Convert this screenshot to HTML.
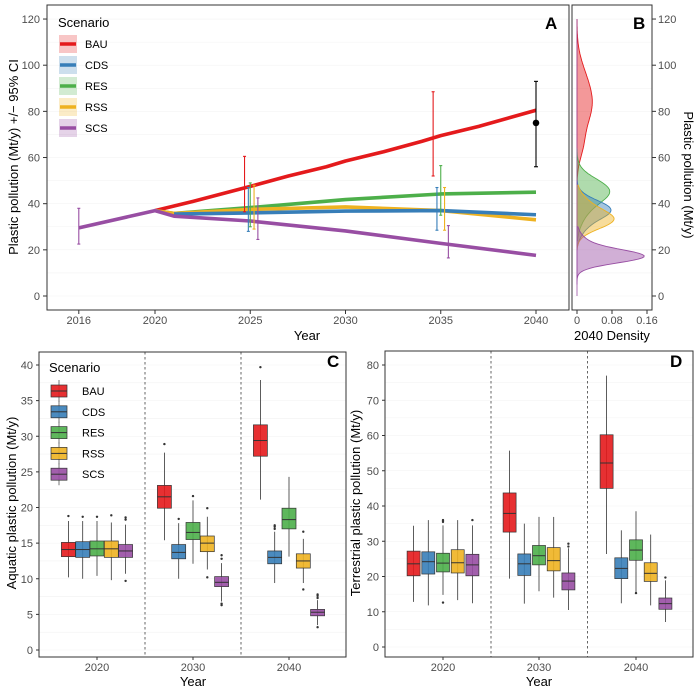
<!DOCTYPE html>
<html><head><meta charset="utf-8"><style>
body{margin:0;background:#fff}
svg{display:block;font-family:"Liberation Sans",Arial,sans-serif}
.t{font-size:11px;fill:#4d4d4d}
.ti{font-size:13px;fill:#000}
</style></head><body>
<svg id="s" width="700" height="692" viewBox="0 0 700 692" xmlns="http://www.w3.org/2000/svg"></svg>
<script>
const S=document.getElementById('s');let h='';
const C={BAU:'#E41A1C',CDS:'#377EB8',RES:'#4DAF4A',RSS:'#EEB221',SCS:'#984EA3'};
const K=['BAU','CDS','RES','RSS','SCS'];
// Panel A
const ay=v=>296-2.308*v, ax=t=>155+19.05*(t-2020);
for(let v=0;v<=120;v+=10)h+=`<line x1="47" x2="569" y1="${ay(v)}" y2="${ay(v)}" stroke="#f3f3f3" stroke-width="0.6"/>`;
for(let v=0;v<=120;v+=20){h+=`<text class="t" x="40" y="${ay(v)+4}" text-anchor="end">${v}</text><line x1="43" x2="47" y1="${ay(v)}" y2="${ay(v)}" stroke="#333"/>`;}
[2016,2020,2025,2030,2035,2040].forEach(t=>{h+=`<text class="t" x="${ax(t)}" y="324" text-anchor="middle">${t}</text><line x1="${ax(t)}" x2="${ax(t)}" y1="310" y2="314" stroke="#333"/>`;});
const L={
BAU:[[2020,37],[2022,41],[2025,47.5],[2027,52],[2029,56],[2030,58.5],[2032,62.5],[2034,67],[2035,69.5],[2037,73.5],[2040,80.5]],
RES:[[2020,37],[2021,35.8],[2025,38.3],[2030,41.8],[2035,44.2],[2040,45]],
RSS:[[2020,37],[2021,35.8],[2025,37.5],[2030,38.6],[2035,37],[2040,33]],
CDS:[[2021,35.5],[2025,36],[2030,36.8],[2035,37],[2040,35.2]],
SCS:[[2016,29.5],[2020,37],[2021,34.6],[2025,32.5],[2030,28.2],[2035,22.8],[2040,17.6]]};
['BAU','RES','RSS','CDS','SCS'].forEach(k=>{h+=`<polyline fill="none" stroke="${C[k]}" stroke-width="3.6" stroke-linejoin="round" points="${L[k].map(p=>ax(p[0])+','+ay(p[1])).join(' ')}"/>`;});
const E=[['SCS',2016,22.5,38],['BAU',2024.7,36.5,60.5],['CDS',2024.9,28,47],['RES',2025,30,49],['RSS',2025.2,29,48],['SCS',2025.4,24.5,42.5],
['BAU',2034.6,52,88.5],['CDS',2034.8,28.5,47],['RES',2035,35,56.5],['RSS',2035.2,28.5,47],['SCS',2035.4,16.5,30.5]];
E.forEach(e=>{const x=ax(e[1]),c=C[e[0]];h+=`<g stroke="${c}" stroke-width="1.1"><line x1="${x}" x2="${x}" y1="${ay(e[2])}" y2="${ay(e[3])}"/><line x1="${x-1.5}" x2="${x+1.5}" y1="${ay(e[2])}" y2="${ay(e[2])}"/><line x1="${x-1.5}" x2="${x+1.5}" y1="${ay(e[3])}" y2="${ay(e[3])}"/></g>`;});
{const x=ax(2040);h+=`<g stroke="#000" stroke-width="1.1"><line x1="${x}" x2="${x}" y1="${ay(56)}" y2="${ay(93)}"/><line x1="${x-2}" x2="${x+2}" y1="${ay(56)}" y2="${ay(56)}"/><line x1="${x-2}" x2="${x+2}" y1="${ay(93)}" y2="${ay(93)}"/></g><circle cx="${x}" cy="${ay(75)}" r="3.3" fill="#000"/>`;}
h+=`<rect x="47" y="5" width="522" height="305" fill="none" stroke="#333" stroke-width="1"/>`;
h+=`<text x="58" y="27" style="font-size:13px">Scenario</text>`;
K.forEach((k,i)=>{const y=44+i*21;h+=`<rect x="59" y="${y-9}" width="18" height="18" fill="${C[k]}" opacity="0.25"/><line x1="60" x2="76" y1="${y}" y2="${y}" stroke="${C[k]}" stroke-width="3.5"/><text x="85" y="${y+4}" style="font-size:11px">${k}</text>`;});
h+=`<text x="545" y="29" style="font-size:17px;font-weight:bold">A</text>`;
h+=`<text class="ti" x="307" y="340" text-anchor="middle">Year</text>`;
h+=`<text class="ti" transform="translate(18,157) rotate(-90)" text-anchor="middle">Plastic pollution (Mt/y) +/− 95% CI</text>`;
// Panel B
const bx=d=>577+d*437.5;
for(let v=0;v<=120;v+=10)h+=`<line x1="572" x2="652" y1="${ay(v)}" y2="${ay(v)}" stroke="#f3f3f3" stroke-width="0.6"/>`;
const dens=(k,comps,lo,hi)=>{let pts=[];for(let v=lo;v<=hi;v+=0.5){let d=0;comps.forEach(c=>{d+=c[2]*Math.exp(-((v-c[0])**2)/(2*c[1]*c[1]))});pts.push([bx(d),ay(v)]);}
return `<path d="M${bx(0)},${ay(lo)} ${pts.map(p=>'L'+p[0].toFixed(1)+','+p[1].toFixed(1)).join(' ')} L${bx(0)},${ay(hi)}Z" fill="${C[k]}" fill-opacity="0.45" stroke="${C[k]}" stroke-width="0.9"/>`;};
h+=dens('BAU',[[82,9,0.031],[95,8,0.012],[65,6,0.01]],40,120);
h+=dens('RES',[[46,5,0.066],[38,6,0.02]],24,64);
h+=dens('CDS',[[37.5,4,0.075],[30,4,0.015]],22,50);
h+=dens('RSS',[[33,4,0.08],[40,4,0.02]],20,48);
h+=dens('SCS',[[17,2.8,0.135],[21,4,0.03]],5,30);
h+=`<line x1="${bx(0)}" x2="${bx(0)}" y1="${ay(0)}" y2="${ay(120)}" stroke="${C.SCS}" stroke-width="0.8"/>`;
h+=`<rect x="572" y="5" width="80" height="305" fill="none" stroke="#333"/>`;
for(let v=0;v<=120;v+=20)h+=`<text class="t" x="658" y="${ay(v)+4}">${v}</text><line x1="652" x2="656" y1="${ay(v)}" y2="${ay(v)}" stroke="#333"/>`;
[[0,'0'],[0.08,'0.08'],[0.16,'0.16']].forEach(p=>{h+=`<text class="t" x="${bx(p[0])}" y="324" text-anchor="middle">${p[1]}</text><line x1="${bx(p[0])}" x2="${bx(p[0])}" y1="310" y2="314" stroke="#333"/>`;});
h+=`<text x="633" y="29" style="font-size:17px;font-weight:bold">B</text>`;
h+=`<text class="ti" x="612" y="340" text-anchor="middle">2040 Density</text>`;
h+=`<text class="ti" transform="translate(684,175) rotate(90)" text-anchor="middle">Plastic pollution (Mt/y)</text>`;
// Box panels
function panel(o){const{L,R,T,B,y0,ys,xs,max,step,data,lab,ttl,tx,lx}=o;const yy=v=>y0-ys*v;
for(let v=0;v<=max;v+=step/2)h+=`<line x1="${L}" x2="${R}" y1="${yy(v)}" y2="${yy(v)}" stroke="#f2f2f2" stroke-width="0.6"/>`;
[0,1].forEach(i=>{const x=(xs[i]+xs[i+1])/2;h+=`<line x1="${x}" x2="${x}" y1="${T}" y2="${B}" stroke="#555" stroke-dasharray="2.5,2.5" stroke-width="0.9"/>`;});
data.forEach((g,gi)=>g.forEach((b,i)=>{const k=K[i],x=xs[gi]+(i-2)*o.off,w=o.bw;
h+=`<line x1="${x}" x2="${x}" y1="${yy(b[3])}" y2="${yy(b[4])}" stroke="#333" stroke-width="0.8"/>`;
h+=`<rect x="${x-w/2}" y="${yy(b[2])}" width="${w}" height="${yy(b[0])-yy(b[2])}" fill="${C[k]}" fill-opacity="0.9" stroke="#333" stroke-width="0.7"/><line x1="${x-w/2}" x2="${x+w/2}" y1="${yy(b[1])}" y2="${yy(b[1])}" stroke="#333" stroke-width="1"/>`;
(b[5]||[]).forEach(v=>h+=`<circle cx="${x}" cy="${yy(v)}" r="1.2" fill="#333"/>`);}));
h+=`<rect x="${L}" y="${T}" width="${R-L}" height="${B-T}" fill="none" stroke="#333"/>`;
for(let v=0;v<=max;v+=step)h+=`<text class="t" x="${L-6}" y="${yy(v)+4}" text-anchor="end">${v}</text><line x1="${L-3}" x2="${L}" y1="${yy(v)}" y2="${yy(v)}" stroke="#333"/>`;
[2020,2030,2040].forEach((t,i)=>h+=`<text class="t" x="${xs[i]}" y="${B+14}" text-anchor="middle">${t}</text><line x1="${xs[i]}" x2="${xs[i]}" y1="${B}" y2="${B+3}" stroke="#333"/>`);
h+=`<text x="${tx}" y="367" style="font-size:17px;font-weight:bold">${lab}</text>`;
h+=`<text class="ti" x="${xs[1]}" y="686" text-anchor="middle">Year</text>`;
h+=`<text class="ti" transform="translate(${lx},503) rotate(-90)" text-anchor="middle">${ttl}</text>`;}
panel({L:39,R:346,T:352,B:657,y0:650,ys:7.125,xs:[97,193,289],max:40,step:5,off:14.3,bw:14,lab:'C',tx:327,lx:16,ttl:'Aquatic plastic pollution (Mt/y)',data:[
[[13.1,14.1,15.1,10.2,18.1,[18.8]],[13,14.1,15.2,10,18.1,[18.7]],[13.2,14.2,15.3,10.4,18.1,[18.7]],[13,14.2,15.3,9.8,17.9,[18.9]],[13,13.9,14.8,10.7,17.6,[18.3,18.6,9.7]]],
[[19.9,21.5,23.1,15.4,27.7,[28.9]],[12.8,13.7,14.8,10,17.8,[18.4]],[15.5,16.5,17.9,12.1,21,[21.6]],[13.8,15,16,11.3,18.7,[19.9,10.2]],[8.9,9.5,10.3,6.8,12.2,[12.8,13.3,6.5,6.3]]],
[[27.2,29.4,31.6,21.1,37.9,[39.7]],[12.1,13,13.9,9.4,16.6,[17,17.3,17.5]],[17,18.3,19.9,13.1,24.3],[11.5,12.5,13.5,9.4,15.6,[16.6,8.5]],[4.8,5.3,5.7,3.5,7,[7.3,7.6,7.8,3.2]]]]});
panel({L:385,R:693,T:351,B:657,y0:647,ys:3.525,xs:[443,539,636],max:80,step:10,off:14.7,bw:13,lab:'D',tx:670,lx:360,ttl:'Terrestrial plastic pollution (Mt/y)',data:[
[[20.2,23.6,27.2,12.8,34.4],[20.7,24.2,27,11.8,36],[21.3,23.8,26.6,14.8,34.5,[35.5,36,12.6]],[21,23.9,27.6,13.3,36],[20.2,23.3,26.3,12.4,34.5,[36]]],
[[32.6,37.9,43.7,19.4,55.7],[20.3,23.6,26.4,12.3,35],[23.3,25.9,28.8,15.8,36.9],[21.6,24.5,28.2,14,36.9],[16.2,18.7,21,10.5,28,[28.5,29.3]]],
[[45,52.2,60.2,26.4,77],[19.4,22.3,25.3,12.4,33.1],[24.6,27.5,30.4,15.6,38.5,[15.3]],[18.6,20.9,23.9,11.8,31.9],[10.7,12.3,13.9,7.1,18.9,[19.7]]]]});
h+=`<text x="49" y="372" style="font-size:13px">Scenario</text>`;
K.forEach((k,i)=>{const y=391+i*20.8;h+=`<line x1="59" x2="59" y1="${y-11}" y2="${y+11}" stroke="#555" stroke-width="0.8"/><rect x="51" y="${y-6}" width="16" height="12" fill="${C[k]}" fill-opacity="0.9" stroke="#333" stroke-width="0.7"/><line x1="51" x2="67" y1="${y}" y2="${y}" stroke="#333"/><text x="82" y="${y+4}" style="font-size:11px">${k}</text>`;});
S.innerHTML=h;
</script>
</body></html>
